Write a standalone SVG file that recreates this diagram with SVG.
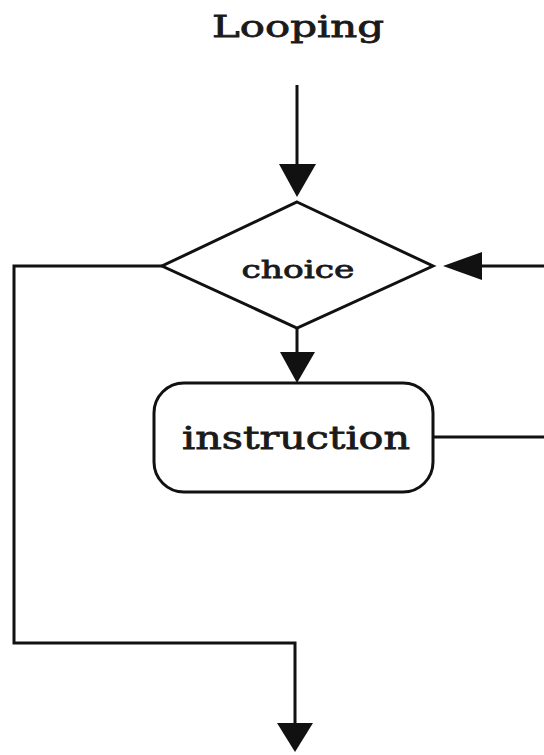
<svg xmlns="http://www.w3.org/2000/svg" width="544" height="755" viewBox="0 0 544 755">
<defs>
<style>
.ln{fill:none;stroke:#111;stroke-width:3}
.nd{fill:#fff;stroke:#111;stroke-width:3}
.tx{font-family:"DejaVu Serif","Liberation Serif",serif;fill:#1a1a1a;stroke:#1a1a1a;stroke-width:0.8}
.ah{fill:#111}
</style>
</defs>
<rect width="544" height="755" fill="#fff"/>
<text class="tx" x="298" y="37" font-size="30" text-anchor="middle" textLength="172" lengthAdjust="spacingAndGlyphs">Looping</text>
<g id="connectors">
<line class="ln" x1="297" y1="85" x2="297" y2="165"/>
<polygon class="ah" points="279,164 316,164 297,197"/>
<line class="ln" x1="297" y1="328" x2="297" y2="353"/>
<polygon class="ah" points="280,352 315,352 297,383"/>
<polyline class="ln" points="162,266 14,266 14,643 295,643 295,725"/>
<polygon class="ah" points="277,723 313,723 295,752"/>
<polyline class="ln" points="433,437 546,437 546,266 480,266"/>
<polygon class="ah" points="482,252 482,280 443,266"/>
</g>
<g id="choice">
<polygon class="nd" points="297,202 433,266 297,328 162,266"/>
<text class="tx" x="298" y="278" font-size="25" text-anchor="middle" textLength="113" lengthAdjust="spacingAndGlyphs">choice</text>
</g>
<g id="instruction">
<rect class="nd" x="154" y="383" width="279" height="109" rx="30"/>
<text class="tx" x="296" y="449" font-size="31" text-anchor="middle" textLength="228" lengthAdjust="spacingAndGlyphs">instruction</text>
</g>
</svg>
